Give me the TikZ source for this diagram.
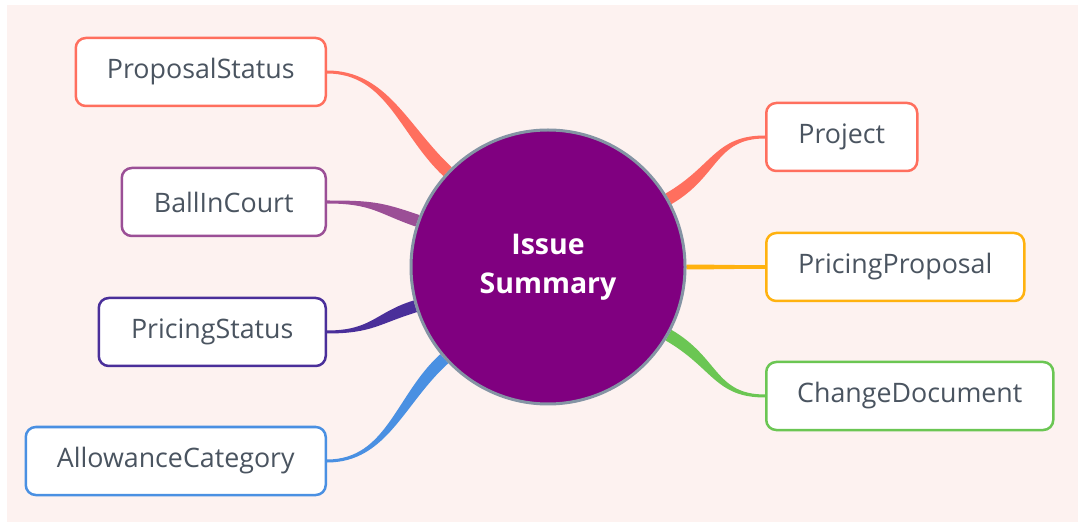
\documentclass[tikz,border=0pt]{standalone}
\usepackage{fontspec}
\setmainfont{Open Sans}
\usepackage{tikz}

\definecolor{bgpink}{HTML}{FDF2F0}
\definecolor{coral}{HTML}{FF6F5E}
\definecolor{mauve}{HTML}{9B4F96}
\definecolor{indigo}{HTML}{4A2F9A}
\definecolor{skyblue}{HTML}{4A90E2}
\definecolor{amber}{HTML}{FFB20F}
\definecolor{leaf}{HTML}{6BC653}
\definecolor{inkgray}{HTML}{4A5460}
\definecolor{rimgray}{HTML}{8494A4}
\definecolor{hubpurple}{HTML}{800080}

\pgfdeclarelayer{bg}
\pgfsetlayers{bg,main}

\tikzset{
  topic/.style={draw=#1, fill=white, line width=2.5pt, rounded corners=10pt,
    minimum height=68pt, inner sep=0pt, text=inkgray,
    font=\fontsize{26.8}{32}\selectfont},
  hub/.style={circle, draw=rimgray, fill=hubpurple, line width=3pt,
    minimum size=274pt, inner sep=0pt, text=white, align=center,
    font=\bfseries\fontsize{28.5}{39}\selectfont}
}

\begin{document}
\begin{tikzpicture}[x=1pt,y=1pt]
  \useasboundingbox (0,0) rectangle (1078,522);

  \node [hub] (Hub) at (548,255) {Issue\\Summary};

  \node [topic=coral, anchor=east, minimum width=250] (ProposalStatus) at (327,450) {ProposalStatus};
  \node [topic=mauve, anchor=east, minimum width=204] (BallInCourt) at (327,320) {BallInCourt};
  \node [topic=indigo, anchor=east, minimum width=227] (PricingStatus) at (327,190) {PricingStatus};
  \node [topic=skyblue, anchor=east, minimum width=300] (AllowanceCategory) at (327,61) {AllowanceCategory};

  \node [topic=coral, anchor=west, minimum width=151] (Project) at (765,385) {Project};
  \node [topic=amber, anchor=west, minimum width=258] (PricingProposal) at (765,255) {PricingProposal};
  \node [topic=leaf, anchor=west, minimum width=287] (ChangeDocument) at (765,126) {ChangeDocument};

  \begin{pgfonlayer}{bg}
    \fill [bgpink] (7,0) rectangle (1078,517);

    % left branches
    \fill [coral] ([yshift=-1.5pt]ProposalStatus.east) .. controls +(60,0) and +(137:60) .. (Hub.139.5)
      -- (Hub.134.5) .. controls +(137:60) and +(60,0) .. ([yshift=1.5pt]ProposalStatus.east) -- cycle;
    \fill [mauve] ([yshift=-1.5pt]BallInCourt.east) .. controls +(45,0) and +(161:40) .. (Hub.163.5)
      -- (Hub.158.5) .. controls +(161:40) and +(45,0) .. ([yshift=1.5pt]BallInCourt.east) -- cycle;
    \fill [indigo] ([yshift=-1.5pt]PricingStatus.east) .. controls +(45,0) and +(197:40) .. (Hub.199.5)
      -- (Hub.194.5) .. controls +(197:40) and +(45,0) .. ([yshift=1.5pt]PricingStatus.east) -- cycle;
    \fill [skyblue] ([yshift=-1.5pt]AllowanceCategory.east) .. controls +(60,0) and +(222:60) .. (Hub.224.5)
      -- (Hub.219.5) .. controls +(222:60) and +(60,0) .. ([yshift=1.5pt]AllowanceCategory.east) -- cycle;

    % right branches
    \fill [coral] ([yshift=-1.5pt]Project.west) .. controls +(-50,0) and +(30:55) .. (Hub.27.5)
      -- (Hub.32.5) .. controls +(30:55) and +(-50,0) .. ([yshift=1.5pt]Project.west) -- cycle;
    \fill [amber] ([yshift=-1.8pt]PricingProposal.west) .. controls +(-30,0) and +(0:30) .. (Hub.-1.3)
      -- (Hub.1.3) .. controls +(0:30) and +(-30,0) .. ([yshift=1.8pt]PricingProposal.west) -- cycle;
    \fill [leaf] ([yshift=-1.5pt]ChangeDocument.west) .. controls +(-50,0) and +(-30:55) .. (Hub.-32.5)
      -- (Hub.-27.5) .. controls +(-30:55) and +(-50,0) .. ([yshift=1.5pt]ChangeDocument.west) -- cycle;
  \end{pgfonlayer}
\end{tikzpicture}
\end{document}
